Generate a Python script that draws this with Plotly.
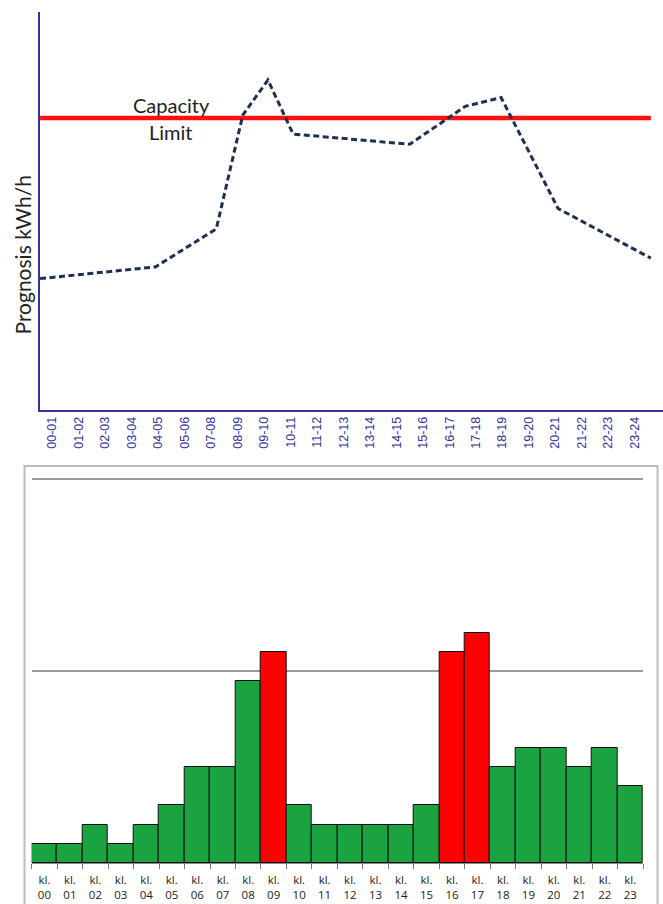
import plotly.graph_objects as go

# --- top chart: prognosis curve against the capacity limit ---
interval_labels = ["00-01", "01-02", "02-03", "03-04", "04-05", "05-06", "07-08",
                   "08-09", "09-10", "10-11", "11-12", "12-13", "13-14", "14-15",
                   "15-16", "16-17", "17-18", "18-19", "19-20", "20-21", "21-22",
                   "22-23", "23-24"]
prognosis_x = [-0.45, 3.9, 6.2, 7.2, 8.15, 9.1, 13.5, 15.6, 16.95, 19.1, 22.6]
prognosis_y = [45, 49, 62, 101, 113, 94.5, 91, 104, 107, 69, 52]
capacity_limit = 100
capacity_x = [-0.45, 22.6]

# --- bottom chart: hourly consumption bars ---
hour_labels = ["kl.<br>%02d" % h for h in range(24)]
hour_values = [10, 10, 20, 10, 20, 30, 50, 50, 95, 110, 30, 20,
               20, 20, 20, 30, 110, 120, 50, 60, 60, 50, 60, 40]
bar_colors = ["#ff0000" if v > capacity_limit else "#1aa340" for v in hour_values]

W, H = 663, 904


def px_x(p):
    return p / W


def px_y(p):
    return 1 - p / H


fig = go.Figure()

fig.add_trace(go.Scatter(
    x=capacity_x, y=[capacity_limit, capacity_limit], mode="lines",
    line=dict(color="#ff1010", width=4.5), xaxis="x", yaxis="y",
    hoverinfo="skip", showlegend=False))

fig.add_trace(go.Scatter(
    x=prognosis_x, y=prognosis_y, mode="lines",
    line=dict(color="#1f2f52", width=3, dash="6px,3.5px"),
    xaxis="x", yaxis="y", showlegend=False))

fig.add_trace(go.Bar(
    x=hour_labels, y=hour_values, marker=dict(color=bar_colors,
                                              line=dict(color="#111111", width=1)),
    width=1.0, xaxis="x2", yaxis="y2", showlegend=False))

fig.update_layout(
    width=W, height=H, margin=dict(l=0, r=0, t=0, b=0),
    paper_bgcolor="white", plot_bgcolor="white",
    font=dict(family="Lato", color="#222222"),
    xaxis=dict(domain=[px_x(40), 1], range=[-0.453, 23.06],
               tickvals=list(range(len(interval_labels))), ticktext=interval_labels,
               tickangle=-90, tickfont=dict(family="Liberation Sans", size=12.5,
                                            color="#3030a0"),
               showgrid=False, zeroline=False, showline=True,
               linecolor="#33339b", linewidth=1.5, ticks="", ticklen=0,
               anchor="y"),
    yaxis=dict(domain=[px_y(410), px_y(12)], range=[0, 136.3],
               showgrid=False, zeroline=False, showticklabels=False,
               showline=True, linecolor="#33339b", linewidth=1.5, ticks="",
               anchor="x"),
    xaxis2=dict(domain=[px_x(31.7), px_x(643)], type="category",
                tickson="boundaries", ticks="outside", ticklen=5,
                tickcolor="#777777", showline=True, linecolor="#888888",
                linewidth=1, showgrid=False, zeroline=False,
                tickfont=dict(family="Open Sans", size=11.5, color="#222222"),
                ticklabelstandoff=6, tickangle=0, anchor="y2"),
    yaxis2=dict(domain=[px_y(863), px_y(477)], range=[0, 201],
                tickvals=[100, 200], showticklabels=False, showgrid=True,
                gridcolor="#9a9a9a", gridwidth=1.5, zeroline=False,
                showline=False, ticks="", anchor="x2"),
    bargap=0,
    shapes=[dict(type="rect", xref="paper", yref="paper",
                 x0=px_x(24.5), x1=px_x(657.5), y0=-0.02, y1=px_y(466),
                 line=dict(color="#bdbdbd", width=2), fillcolor="rgba(0,0,0,0)",
                 layer="below")],
    annotations=[
        dict(text="Capacity", xref="paper", yref="paper", x=px_x(171), y=px_y(105),
             showarrow=False, font=dict(family="Lato", size=20, color="#222222"),
             xanchor="center", yanchor="middle"),
        dict(text="Limit", xref="paper", yref="paper", x=px_x(171), y=px_y(132),
             showarrow=False, font=dict(family="Lato", size=20, color="#222222"),
             xanchor="center", yanchor="middle"),
        dict(text="Prognosis kWh/h", xref="paper", yref="paper", x=px_x(22.5),
             y=px_y(255), textangle=-90, showarrow=False,
             font=dict(family="Lato", size=21, color="#222222"),
             xanchor="center", yanchor="middle"),
    ],
)

fig.write_html("out.html")
